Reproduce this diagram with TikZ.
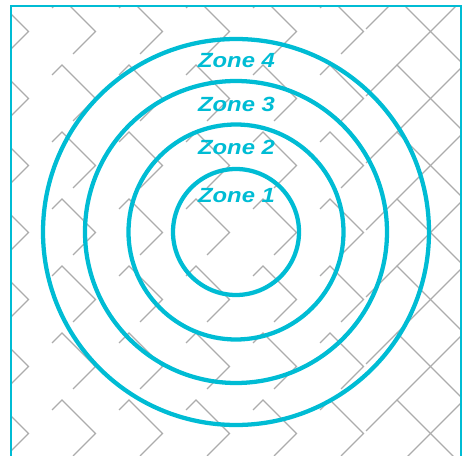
\documentclass[tikz,border=0pt]{standalone}
\usepackage{fontspec}
\newfontfamily\zonefont{Liberation Sans}[FakeStretch=1.16]
\definecolor{zonecyan}{RGB}{0,188,212}
\definecolor{meshgray}{RGB}{172,172,172}

\begin{document}
\begin{tikzpicture}[x=0.75pt, y=-0.75pt,
    % Styles
    zone ring/.style={draw=zonecyan, line width=3.2pt},
    zone label/.style={text=zonecyan, font=\zonefont\bfseries\itshape\fontsize{15.4}{18}\selectfont, anchor=base, inner sep=0pt},
    mesh line/.style={draw=meshgray, line width=0.9pt},
    frame line/.style={draw=zonecyan, line width=1.5pt}
]
\useasboundingbox (0,0) rectangle (465,456);

% Background mesh (chevrons on a diagonal grid)
\begin{scope}
    \clip (11,6.5) rectangle (460.5,456);
    \foreach \i in {-1,1,...,9} {
        \foreach \j in {-1,1,...,13} {
            \coordinate (pk) at ({28.5+33.5*\i},{31.5+33.5*\j});
            \draw[mesh line] (pk) ++(-10,10) -- (pk) -- ++(33.5,33.5) -- ++(-22.5,22.5);
        }
    }
    % denser part on the right
    \foreach \j in {-1,1,...,13} {
        \coordinate (pk) at (397,{31.5+33.5*\j});
        \draw[mesh line] (pk) ++(-31,31) -- (pk) -- ++(67,67);
        \draw[mesh line] (pk) ++(67,0) -- ++(-67,67);
    }
\end{scope}

% Frame
\draw[frame line] (11,470) -- (11,6.5) -- (460.5,6.5) -- (460.5,470);

% Rings
\coordinate (c) at (236,232);
\foreach \r in {63,107.5,151,193}
    \draw[zone ring] (c) circle[radius=\r];

% Labels
\node[zone label] (zone4) at (236.5,67.3) {Zone 4};
\node[zone label] (zone3) at (236.5,111.7) {Zone 3};
\node[zone label] (zone2) at (236.5,155) {Zone 2};
\node[zone label] (zone1) at (236.5,202.5) {Zone 1};

\end{tikzpicture}
\end{document}
